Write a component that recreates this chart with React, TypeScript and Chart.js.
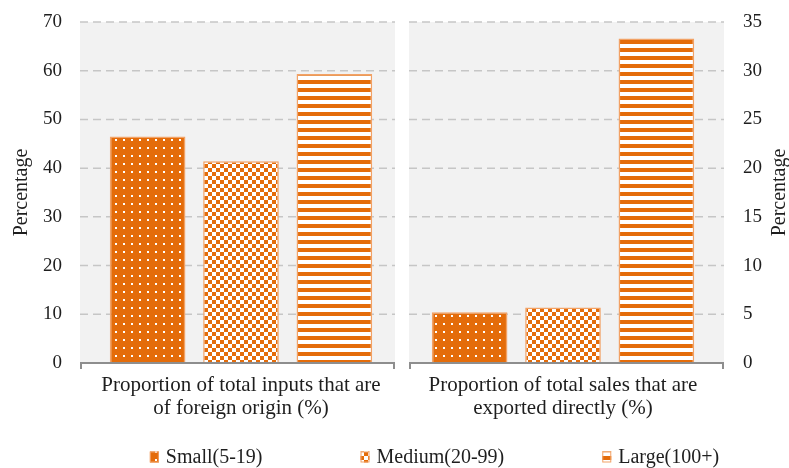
import React, { useEffect, useRef } from 'react';
import { Chart, registerables } from 'chart.js';

Chart.register(...registerables);

// ---- data ----
const categories: string[][] = [
  ['Proportion of total inputs that are', 'of foreign origin (%)'],
  ['Proportion of total sales that are', 'exported directly (%)'],
];
const seriesNames = ['Small(5-19)', 'Medium(20-99)', 'Large(100+)'];
// left panel (left axis, 0-70)
const inputsForeignValues = [46.5, 41.4, 59.3];
// right panel (right axis, 0-35)
const salesExportedValues = [5.2, 5.7, 33.3];
const leftAxisRange = [0, 70, 10];
const rightAxisRange = [0, 35, 5];
const axisTitle = 'Percentage';

// ---- styles ----
const ORANGE = '#E46C0A';
const BORDER = '#F2A266';
const TEXT = '#1E1E1E';
const FONT = '"Liberation Serif", "Times New Roman", serif';

function makePattern(kind: string): CanvasPattern | string {
  const c = document.createElement('canvas');
  c.width = 8;
  c.height = 8;
  const g = c.getContext('2d');
  if (!g) return ORANGE;
  if (kind === 'dots') {
    g.fillStyle = ORANGE;
    g.fillRect(0, 0, 8, 8);
    g.fillStyle = '#ffffff';
    g.fillRect(3, 3, 2, 2);
  } else if (kind === 'checker') {
    g.fillStyle = '#ffffff';
    g.fillRect(0, 0, 8, 8);
    g.fillStyle = ORANGE;
    g.fillRect(0, 0, 4, 4);
    g.fillRect(4, 4, 4, 4);
  } else {
    g.fillStyle = '#ffffff';
    g.fillRect(0, 0, 8, 8);
    g.fillStyle = ORANGE;
    g.fillRect(0, 0, 8, 4);
  }
  return g.createPattern(c, 'repeat') || ORANGE;
}

function drawRotatedTitle(ctx: CanvasRenderingContext2D, x: number, y: number) {
  ctx.save();
  ctx.fillStyle = TEXT;
  ctx.font = `20px ${FONT}`;
  ctx.textAlign = 'center';
  ctx.textBaseline = 'middle';
  ctx.translate(x, y);
  ctx.rotate(-Math.PI / 2);
  ctx.fillText(axisTitle, 0, 0);
  ctx.restore();
}

const panelPlugin = {
  id: 'panelPlugin',
  _panels(chart: any) {
    const a = chart.chartArea;
    const x = chart.scales.x;
    const mid = (x.getPixelForValue(0) + x.getPixelForValue(1)) / 2;
    const gap = 7;
    return [
      [a.left, mid - gap],
      [mid + gap, a.right],
    ];
  },
  beforeDatasetsDraw(chart: any) {
    const { ctx, chartArea: a, scales } = chart;
    const panels = panelPlugin._panels(chart);
    ctx.save();
    ctx.fillStyle = '#F2F2F2';
    panels.forEach(([l, r]) => ctx.fillRect(l, a.top, r - l, a.bottom - a.top));
    ctx.strokeStyle = '#C6C6C6';
    ctx.lineWidth = 1.5;
    ctx.setLineDash([8, 5]);
    const y = scales.y;
    y.ticks.forEach((t: any) => {
      if (t.value === leftAxisRange[0]) return;
      const py = y.getPixelForValue(t.value);
      panels.forEach(([l, r]) => {
        ctx.beginPath();
        ctx.moveTo(l, py);
        ctx.lineTo(r, py);
        ctx.stroke();
      });
    });
    ctx.restore();
  },
  afterDatasetsDraw(chart: any) {
    const { ctx, chartArea: a } = chart;
    const panels = panelPlugin._panels(chart);
    ctx.save();
    ctx.strokeStyle = '#8E8E8E';
    ctx.lineWidth = 2;
    const by = a.bottom;
    panels.forEach(([l, r]) => {
      ctx.beginPath();
      ctx.moveTo(l + 1, by + 6);
      ctx.lineTo(l + 1, by);
      ctx.lineTo(r - 1, by);
      ctx.lineTo(r - 1, by + 6);
      ctx.stroke();
    });
    ctx.restore();
  },
  afterDraw(chart: any) {
    const { ctx, chartArea: a } = chart;
    const midY = (a.top + a.bottom) / 2;
    // axis titles (both rotated bottom-to-top)
    drawRotatedTitle(ctx, 22, midY);
    drawRotatedTitle(ctx, chart.width - 9, midY);

    // legend
    ctx.save();
    ctx.font = `20px ${FONT}`;
    ctx.textBaseline = 'middle';
    ctx.textAlign = 'left';
    const boxW = 9;
    const boxH = 11;
    const boxGap = 7;
    const itemGap = 98;
    const items = seriesNames.map((name, i) => ({
      name,
      fill: chart.data.datasets[i].backgroundColor,
      w: ctx.measureText(name).width,
    }));
    const total =
      items.reduce((s, it) => s + boxW + boxGap + it.w, 0) + itemGap * (items.length - 1);
    const center = (a.left + chart.width) / 2;
    let cx = center - total / 2;
    const cy = chart.height - 11;
    items.forEach((it) => {
      ctx.fillStyle = it.fill;
      ctx.fillRect(cx, cy - boxH / 2, boxW, boxH);
      ctx.strokeStyle = BORDER;
      ctx.lineWidth = 1;
      ctx.strokeRect(cx + 0.5, cy - boxH / 2 + 0.5, boxW - 1, boxH - 1);
      ctx.fillStyle = TEXT;
      ctx.fillText(it.name, cx + boxW + boxGap, cy + 1);
      cx += boxW + boxGap + it.w + itemGap;
    });
    ctx.restore();
  },
};

const topRoom = (scale: any) => {
  scale.paddingTop = 22;
};

export default function App() {
  const ref = useRef<HTMLCanvasElement | null>(null);

  useEffect(() => {
    if (!ref.current) return;
    const patterns = [makePattern('dots'), makePattern('checker'), makePattern('stripes')];
    const common = {
      borderColor: BORDER,
      borderWidth: 1.5,
      categoryPercentage: 0.87,
      barPercentage: 0.81,
      skipNull: true,
    };
    const leftSets = seriesNames.map((name, i) => ({
      ...common,
      label: name,
      data: [inputsForeignValues[i], null],
      backgroundColor: patterns[i],
      yAxisID: 'y',
    }));
    const rightSets = seriesNames.map((name, i) => ({
      ...common,
      label: name,
      data: [null, salesExportedValues[i]],
      backgroundColor: patterns[i],
      yAxisID: 'y2',
    }));

    const chart = new Chart(ref.current, {
      type: 'bar',
      data: {
        labels: categories as any,
        datasets: [...leftSets, ...rightSets] as any,
      },
      options: {
        animation: false,
        responsive: true,
        maintainAspectRatio: false,
        layout: { padding: { top: 0, right: 8, bottom: 37, left: 25 } },
        plugins: {
          legend: { display: false },
          tooltip: { enabled: false },
        },
        scales: {
          x: {
            grid: { display: false, drawTicks: false },
            border: { display: false },
            ticks: {
              padding: 11,
              maxRotation: 0,
              autoSkip: false,
              color: TEXT,
              font: { family: FONT, size: 21, lineHeight: '23px' },
            },
          },
          y: {
            position: 'left',
            min: leftAxisRange[0],
            max: leftAxisRange[1],
            afterFit: topRoom,
            ticks: {
              stepSize: leftAxisRange[2],
              padding: 18,
              color: TEXT,
              font: { family: FONT, size: 19 },
            },
            grid: { display: false, drawTicks: false },
            border: { display: false },
          },
          y2: {
            position: 'right',
            min: rightAxisRange[0],
            max: rightAxisRange[1],
            afterFit: topRoom,
            ticks: {
              stepSize: rightAxisRange[2],
              padding: 19,
              color: TEXT,
              font: { family: FONT, size: 19 },
            },
            grid: { display: false, drawTicks: false },
            border: { display: false },
          },
        },
      } as any,
      plugins: [panelPlugin as any],
    });
    return () => chart.destroy();
  }, []);

  return (
    <div style={{ position: 'absolute', left: 0, top: 0, width: 789, height: 468, background: '#fff' }}>
      <canvas ref={ref} />
    </div>
  );
}
